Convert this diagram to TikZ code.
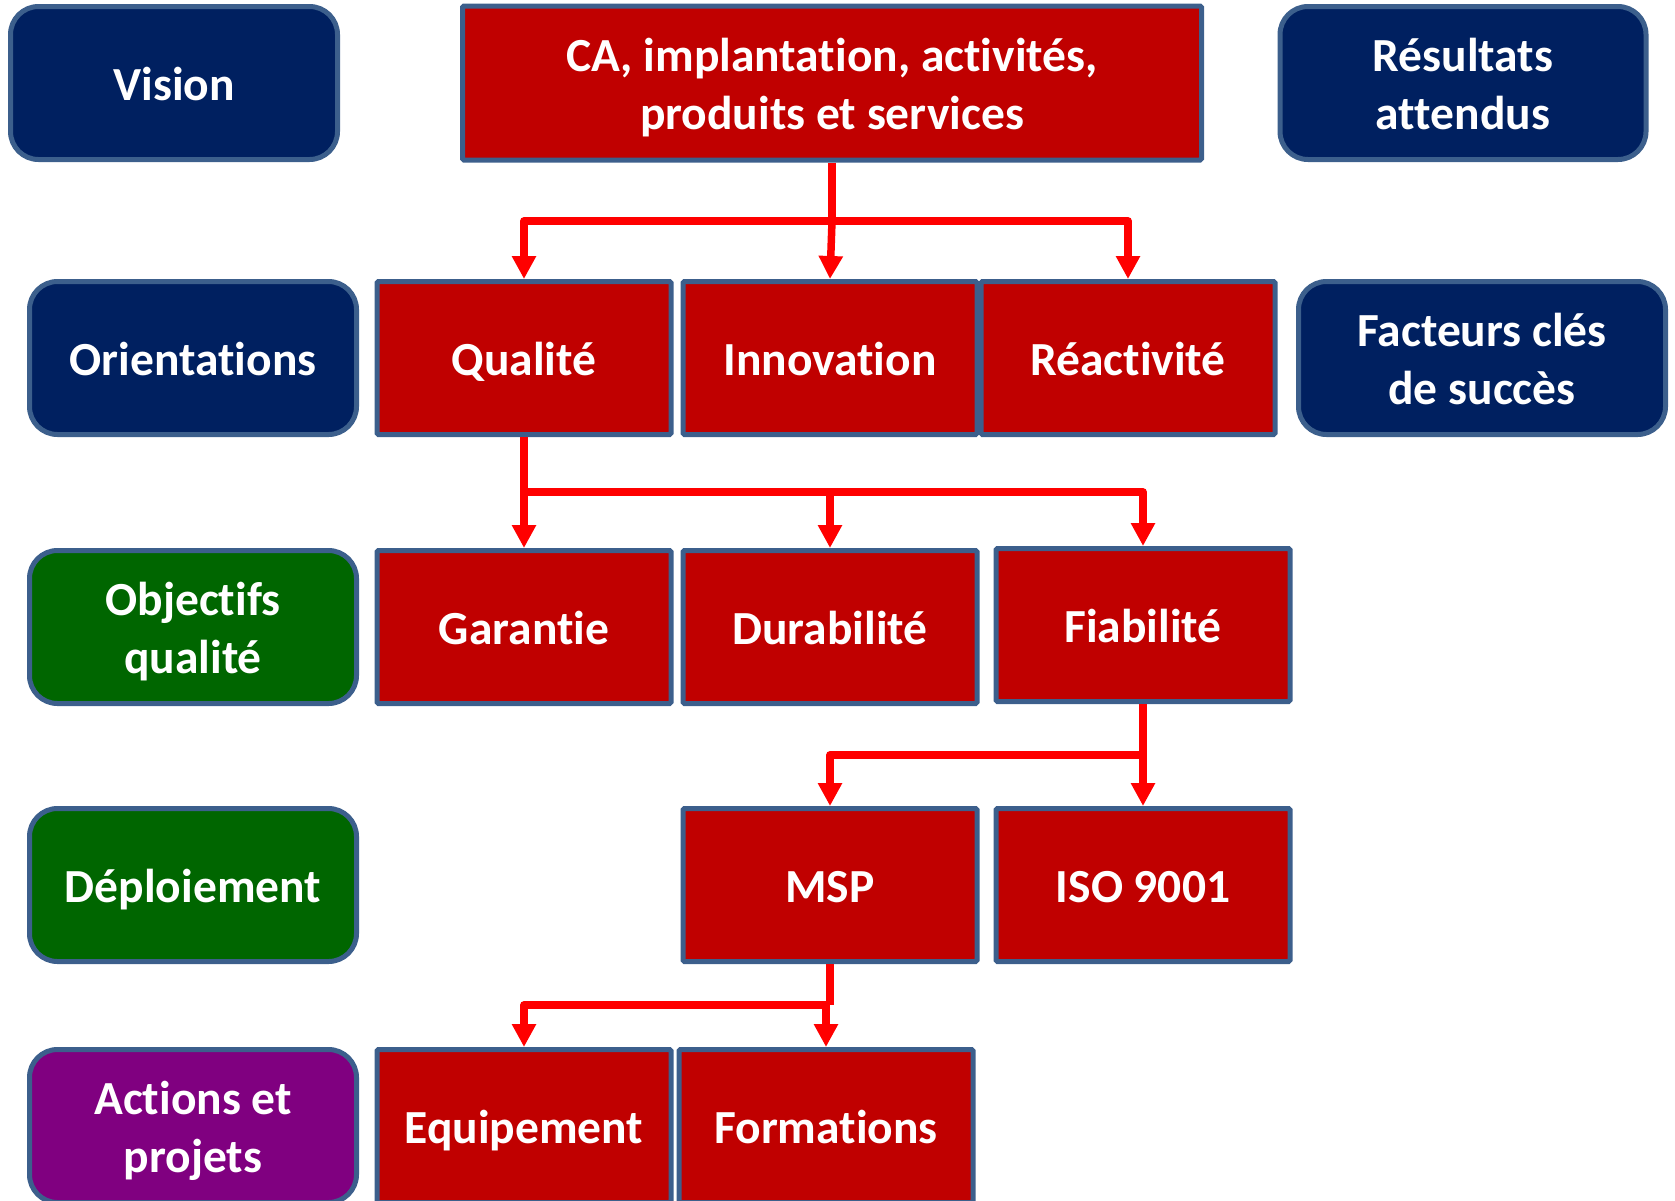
\documentclass[tikz,border=0pt]{standalone}
\usepackage{fontspec}
\setmainfont[Ligatures=NoCommon]{Carlito}
\usetikzlibrary{arrows.meta}

\definecolor{navybox}{HTML}{002060}
\definecolor{redbox}{HTML}{C00000}
\definecolor{greenbox}{HTML}{006600}
\definecolor{purplebox}{HTML}{800080}
\definecolor{boxedge}{HTML}{3C5F8C}
\definecolor{linkred}{HTML}{FF0000}

% fixed line height and depth so every label sits on the same baseline
\newcommand\ls{\rule[-10pt]{0pt}{55pt}}

\tikzset{
  base/.style={draw=boxedge, line width=5pt, text=white, align=center,
    font=\fontsize{47.5}{58}\selectfont\bfseries, inner sep=0pt},
  level/.style={base, rounded corners=28pt, minimum width=327pt, minimum height=153pt},
  navylevel/.style={level, fill=navybox},
  greenlevel/.style={level, fill=greenbox},
  purplelevel/.style={level, fill=purplebox},
  item/.style={base, fill=redbox, rounded corners=1.5pt, minimum width=294pt, minimum height=153pt},
  link/.style={draw=linkred, line width=7.5pt, line join=round},
  arr/.style={link, -{Triangle[length=23pt, width=23pt]}},
}

\begin{document}
\begin{tikzpicture}[x=1pt, y=-1pt]
\useasboundingbox (0,0) rectangle (1675,1200);

% left-hand level labels
\node[navylevel]   (vision) at (174,83)  {\ls Vision};
\node[navylevel]   (orient) at (193,358) {\ls Orientations};
\node[greenlevel]  (object) at (193,627) {\ls Objectifs\\\ls qualité};
\node[greenlevel]  (deploy) at (193,885) {\ls Déploiement};
\node[purplelevel] (action) at (193,1126) {\ls Actions et\\\ls projets};

% right-hand labels
\node[navylevel, minimum width=366pt] (result) at (1463,83)  {\ls Résultats\\\ls attendus};
\node[navylevel, minimum width=367pt] (facteur) at (1482,358) {\ls Facteurs clés\\\ls de succès};

% content boxes
\node[item, minimum width=739pt, minimum height=154pt] (ca) at (832,83)
  {\ls CA, implantation, activités,\\\ls produits et services};

\node[item] (qual)  at (524,358)  {\ls Qualité};
\node[item] (innov) at (830,358)  {\ls Innovation};
\node[item] (react) at (1128,358) {\ls Réactivité};

\node[item] (garant) at (524,627)  {\ls Garantie};
\node[item] (durab)  at (830,627)  {\ls Durabilité};
\node[item] (fiab)   at (1143,625) {\ls Fiabilité};

\node[item] (msp) at (830,885)  {\ls MSP};
\node[item] (iso) at (1143,885) {\ls ISO 9001};

\node[item] (equip) at (524,1126) {\ls Equipement};
\node[item] (form)  at (826,1126) {\ls Formations};

% connectors
\coordinate (j1) at (832,221);
\draw[link] (ca.south) -- (j1);
\draw[arr] (j1) -| (qual.north);
\draw[arr] (j1) -- (innov.north);
\draw[arr] (j1) -| (react.north);

\coordinate (j2) at (524,492);
\draw[link] (qual.south) -- (j2);
\draw[arr] (j2) -- (garant.north);
\draw[arr] (j2) -| (durab.north);
\draw[arr] (j2) -| (fiab.north);

\coordinate (j3) at (1143,755);
\draw[link] (fiab.south) -- (j3);
\draw[arr] (j3) -| (msp.north);
\draw[arr] (j3) -- (iso.north);

\coordinate (j4) at (830,1005);
\draw[link] (msp.south) -- (j4);
\draw[arr] (j4) -| (equip.north);
\draw[arr] (j4) -| (form.north);
\end{tikzpicture}
\end{document}
